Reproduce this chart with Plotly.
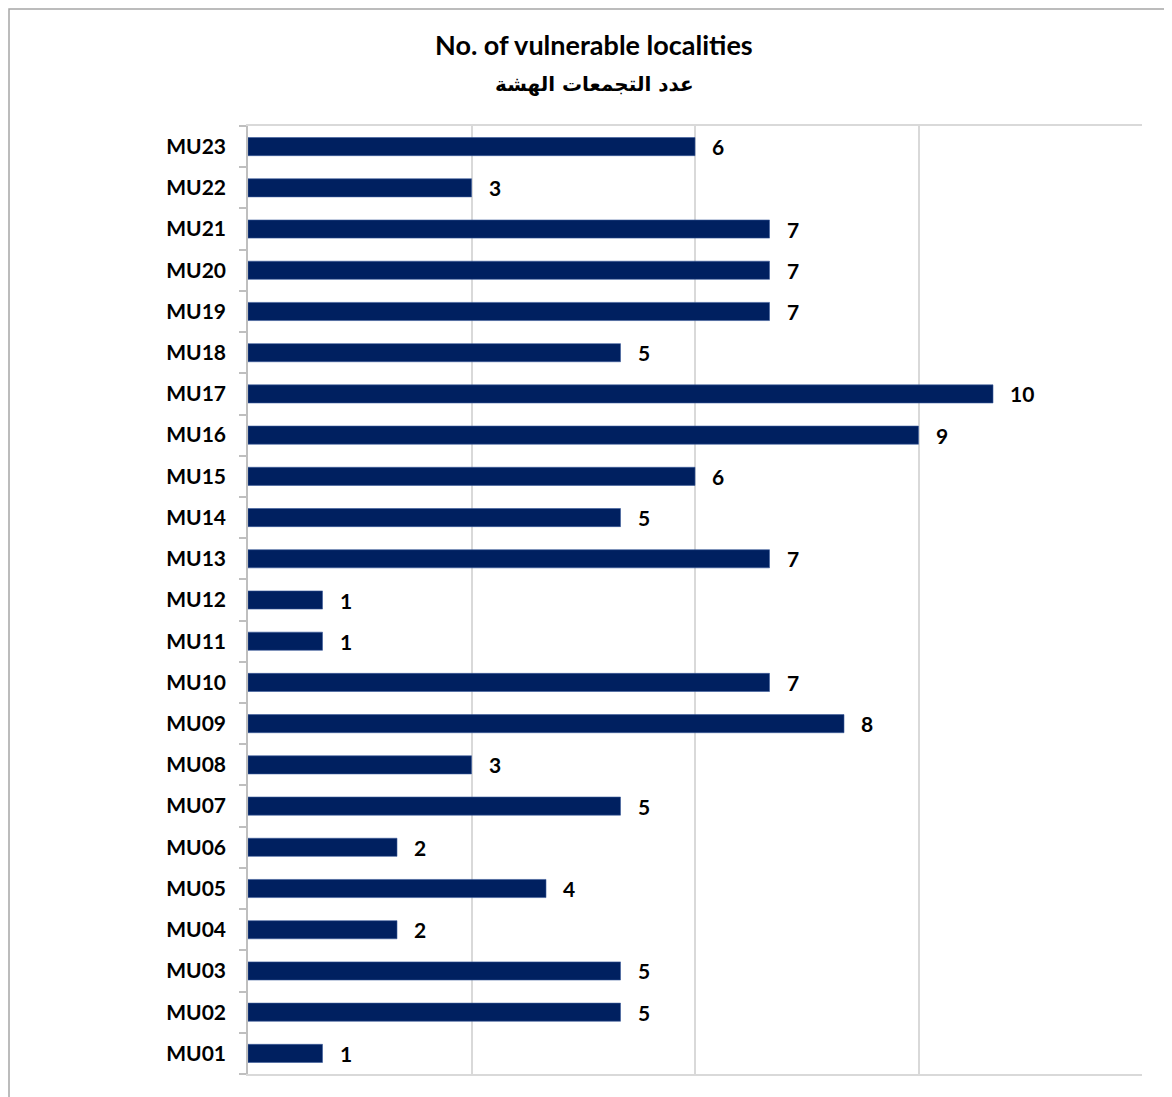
import plotly.graph_objects as go

categories = ["MU01", "MU02", "MU03", "MU04", "MU05", "MU06", "MU07", "MU08",
              "MU09", "MU10", "MU11", "MU12", "MU13", "MU14", "MU15", "MU16",
              "MU17", "MU18", "MU19", "MU20", "MU21", "MU22", "MU23"]
values = [1, 5, 5, 2, 4, 2, 5, 3, 8, 7, 1, 1, 7, 5, 6, 9, 10, 5, 7, 7, 7, 3, 6]
x_ticks = [0, 3, 6, 9, 12]
title_en = "No. of vulnerable localities"
title_ar = "عدد التجمعات الهشة"

FONT = "Lato, 'DejaVu Sans', sans-serif"
OFF = 8  # page body margin
W, H = 1172 - OFF, 1097 - OFF
L, R, T, B = 248 - OFF, 1142 - OFF, 126 - OFF, 1074 - OFF
pw, ph = R - L, B - T

def py(page_y):
    return (B - (page_y - OFF)) / ph

fig = go.Figure()
fig.add_trace(go.Bar(
    y=categories, x=values, orientation="h",
    marker=dict(color="#002060", line=dict(color="#3a5a9a", width=0.6)),
    width=0.44,
    hoverinfo="x+y",
))

for c, v in zip(categories, values):
    fig.add_annotation(x=v, y=c, xref="x", yref="y", text=f"<b>{v}</b>",
                       showarrow=False, xanchor="left", yanchor="middle",
                       xshift=15, yshift=0,
                       font=dict(family=FONT, size=21, color="#000000", weight="bold"))

fig.add_annotation(x=0.5, y=py(45), xref="paper", yref="paper",
                   text=f"<b>{title_en}</b>", showarrow=False,
                   xanchor="center", yanchor="middle",
                   xshift=(594 - (L + OFF + pw / 2)),
                   font=dict(family=FONT, size=27, color="#000000", weight="bold"))
fig.add_annotation(x=0.5, y=py(84), xref="paper", yref="paper",
                   text=f"<b>{title_ar}</b>", showarrow=False,
                   xanchor="center", yanchor="middle",
                   xshift=(594 - (L + OFF + pw / 2)),
                   font=dict(family="'DejaVu Sans', sans-serif", size=20,
                             color="#000000", weight="bold"))

fig.update_layout(
    width=W, height=H,
    margin=dict(l=L, r=W - R, t=T, b=H - B, pad=0),
    paper_bgcolor="white", plot_bgcolor="white",
    showlegend=False,
    xaxis=dict(
        range=[0, 12], tickvals=x_ticks, showticklabels=False,
        showgrid=True, gridcolor="#d9d9d9", gridwidth=1.5,
        zeroline=False, showline=True, linecolor="#d9d9d9", linewidth=1.5,
        mirror=True, ticks="",
    ),
    yaxis=dict(
        categoryorder="array", categoryarray=categories,
        tickfont=dict(family=FONT, size=21, color="#000000", weight="bold"),
        ticks="outside", tickson="boundaries", ticklen=7,
        tickcolor="#bfbfbf", tickwidth=1.5,
        showline=True, linecolor="#bfbfbf", linewidth=1.5,
        showgrid=False, ticklabelstandoff=16,
    ),
)

# outer chart border (page body margin puts the figure at 8px)
fig.add_shape(type="rect", xref="paper", yref="paper",
              x0=(1 - L) / pw, x1=(W + 5 - L) / pw,
              y0=(B - (H + 5)) / ph, y1=(B - 1) / ph,
              line=dict(color="#a6a6a6", width=1.5), fillcolor="rgba(0,0,0,0)",
              layer="below")

fig.write_html("out.html")
